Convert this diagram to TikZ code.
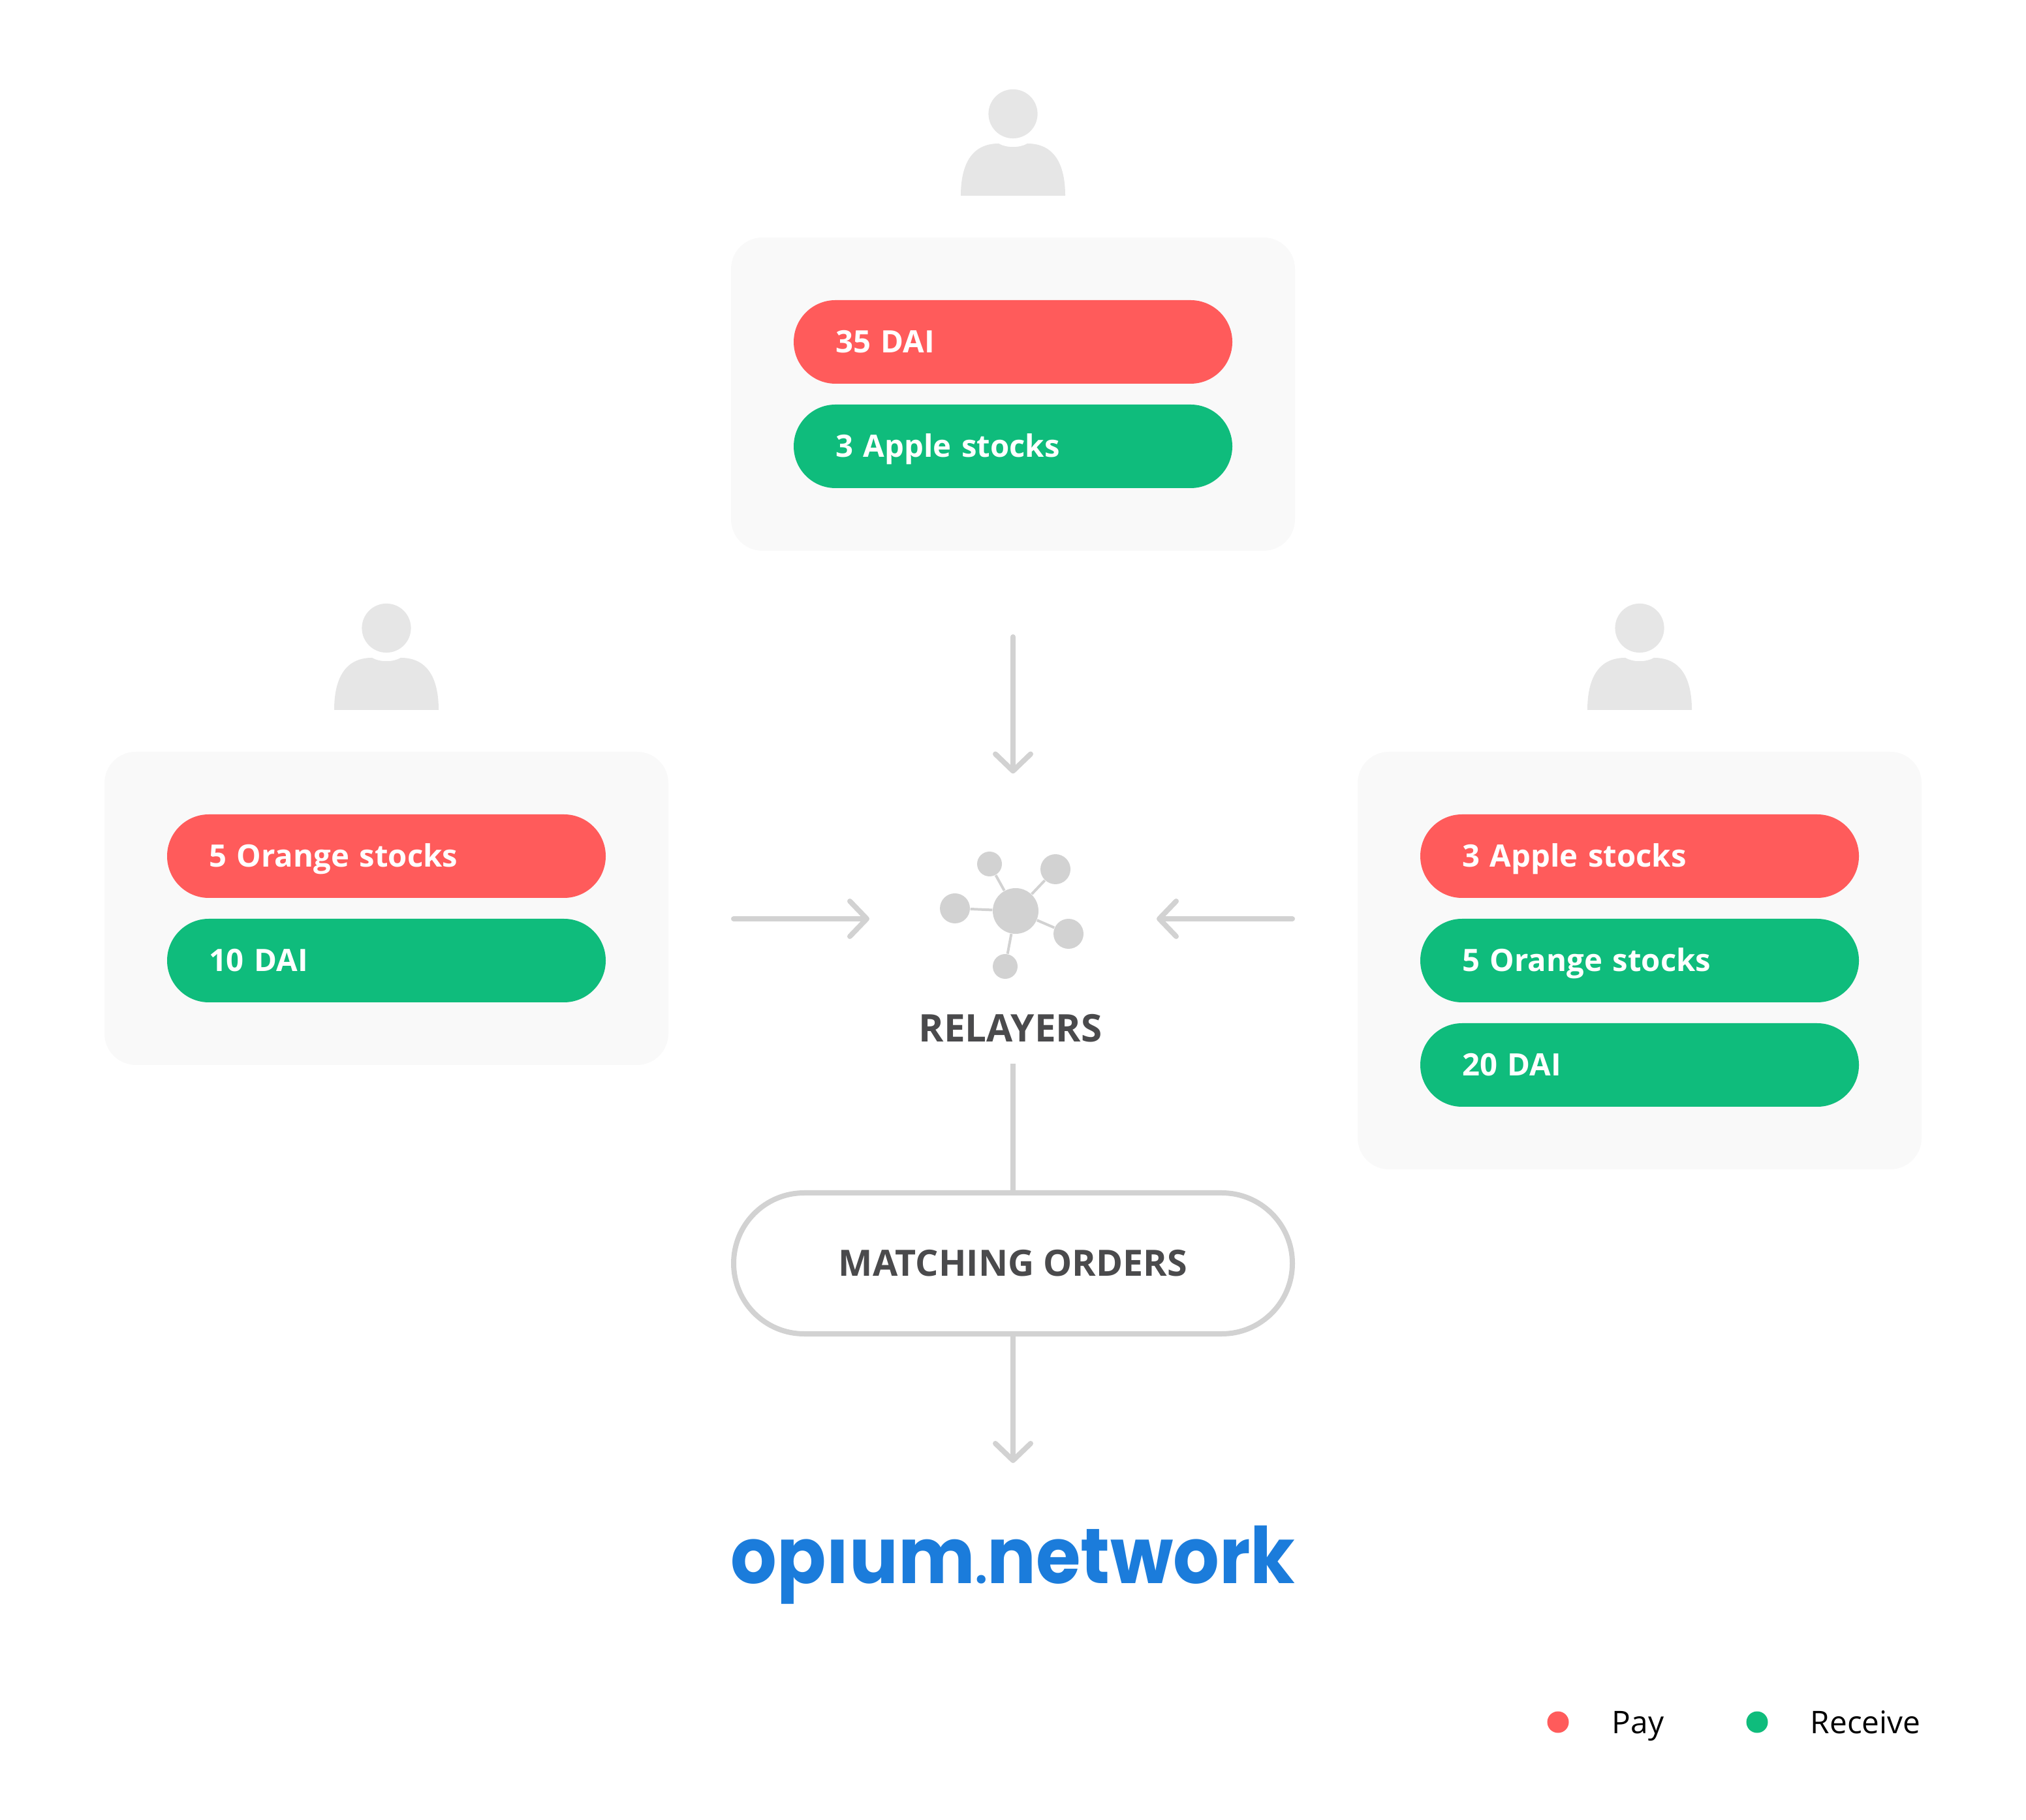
\documentclass[tikz,border=0pt]{standalone}
\usepackage{fontspec}
\setmainfont{Open Sans}
\newfontfamily\logofont{Poppins}
\usetikzlibrary{arrows.meta,positioning}
\definecolor{payred}{RGB}{255, 91, 91}
\definecolor{getgreen}{RGB}{15, 188, 124}
\definecolor{cardgray}{RGB}{249, 249, 249}
\definecolor{usergray}{RGB}{230, 230, 230}
\definecolor{linegray}{RGB}{210, 210, 210}
\definecolor{titlegray}{RGB}{74, 74, 76}
\definecolor{logoblue}{RGB}{27, 124, 219}
\tikzset{
    card/.style={fill=cardgray, rounded corners=0.48cm, minimum width=8.64cm, inner sep=0pt, outer sep=0pt},
    bar/.style={rounded corners=0.64cm, minimum width=6.72cm, minimum height=1.28cm, inner xsep=0.64cm,
                inner ysep=0pt, outer sep=0pt, text width=5.44cm, text height=0.34cm, text depth=0pt, align=left,
                text=white, font=\fontsize{13.45}{17}\selectfont\bfseries},
    paybar/.style={bar, fill=payred},
    getbar/.style={bar, fill=getgreen},
    flow/.style={linegray, line width=0.08cm, line cap=round, -{Straight Barb[length=0.26cm, width=0.54cm, round]}},
    link/.style={linegray, line width=0.04cm},
    relay/.style={circle, fill=linegray, inner sep=0pt},
    title/.style={text=titlegray, font=\bfseries},
    dot/.style={circle, inner sep=0pt, minimum size=0.33cm},
    legend/.style={anchor=base west, inner sep=0pt, font=\fontsize{13.6}{16}\selectfont},
    person/.pic={
        \fill[usergray] (0, 1.255) circle (0.376);
        \fill[usergray] (-0.80, 0.00) .. controls (-0.80, 0.50) and (-0.62, 0.80) .. (-0.22, 0.80)
                        .. controls (-0.10, 0.73) and (0.10, 0.73) .. (0.22, 0.80)
                        .. controls ( 0.62, 0.80) and ( 0.80, 0.50) .. (0.80, 0.00) -- cycle;
    }
}

\begin{document}
\begin{tikzpicture}
            \useasboundingbox (0.00, 0.00) rectangle (31.04, 27.88);
            % Users
            \pic (topuser)   at (15.52, 24.88) {person};
            \pic (leftuser)  at ( 5.92, 17.00) {person};
            \pic (rightuser) at (25.12, 17.00) {person};
            % Top card
            \node[card, minimum height=4.80cm] (topcard) at (15.52, 21.84) {};
            \node[paybar] (toppay) at (15.52, 22.64) {35 DAI};
            \node[getbar, below=0.32cm of toppay] (topget) {3 Apple stocks};
            % Left card
            \node[card, minimum height=4.80cm] (leftcard) at (5.92, 13.96) {};
            \node[paybar] (leftpay) at (5.92, 14.76) {5 Orange stocks};
            \node[getbar, below=0.32cm of leftpay] (leftget) {10 DAI};
            % Right card
            \node[card, minimum height=6.40cm] (rightcard) at (25.12, 13.16) {};
            \node[paybar] (rightpay) at (25.12, 14.76) {3 Apple stocks};
            \node[getbar, below=0.32cm of rightpay] (rightget) {5 Orange stocks};
            \node[getbar, below=0.32cm of rightget] (rightdai) {20 DAI};
            % Relayers icon
            \node[minimum width=4.40cm, minimum height=4.45cm, inner sep=0pt, outer sep=0pt] (relayers) at (15.52, 13.80) {};
            \node[relay, minimum size=0.70cm] (hub)    at (15.56, 13.92) {};
            \node[relay, minimum size=0.38cm] (relaya) at (15.16, 14.64) {};
            \node[relay, minimum size=0.46cm] (relayb) at (16.17, 14.56) {};
            \node[relay, minimum size=0.46cm] (relayc) at (14.63, 13.96) {};
            \node[relay, minimum size=0.46cm] (relayd) at (16.37, 13.57) {};
            \node[relay, minimum size=0.38cm] (relaye) at (15.40, 13.07) {};
            \draw[link] (hub) -- (relaya);
            \draw[link] (hub) -- (relayb);
            \draw[link] (hub) -- (relayc);
            \draw[link] (hub) -- (relayd);
            \draw[link] (hub) -- (relaye);
            \node[title, font=\fontsize{16.6}{20}\selectfont\bfseries, inner sep=0pt] (relaytitle) at (15.48, 12.12) {RELAYERS};
            % Matching
            \node[draw=linegray, line width=0.08cm, rounded corners=1.08cm, minimum width=8.56cm, minimum height=2.16cm,
                  outer sep=0pt, title, font=\fontsize{15.8}{19}\selectfont\bfseries] (matching) at (15.52, 8.52) {MATCHING ORDERS};
            % Logo
            \node[inner sep=0pt, xscale=0.93, transform shape, text=logoblue, font=\logofont\fontsize{34}{40}\selectfont\bfseries]
                 (logo) at (15.52, 3.90) {op\i um{\fontsize{20}{20}\selectfont.}network};
            % Connectors
            \draw[flow, shorten <=1.32cm] (topcard.south) -- (relayers.north);
            \draw[flow, shorten <=1.00cm] (leftcard.east |- relayers.west) -- (relayers.west);
            \draw[flow, shorten <=1.00cm] (rightcard.west |- relayers.east) -- (relayers.east);
            \draw[linegray, line width=0.08cm] (relayers.south) -- (matching.north);
            \draw[flow] (matching.south) -- ++(0, -1.98) coordinate (logoin);
            % Legend
            \node[dot, fill=payred] (paydot) at (23.87, 1.49) {};
            \node[legend] (paytext) at (24.69, 1.32) {Pay};
            \node[dot, fill=getgreen] (getdot) at (26.92, 1.49) {};
            \node[legend] (gettext) at (27.73, 1.32) {Receive};
\end{tikzpicture}
\end{document}
